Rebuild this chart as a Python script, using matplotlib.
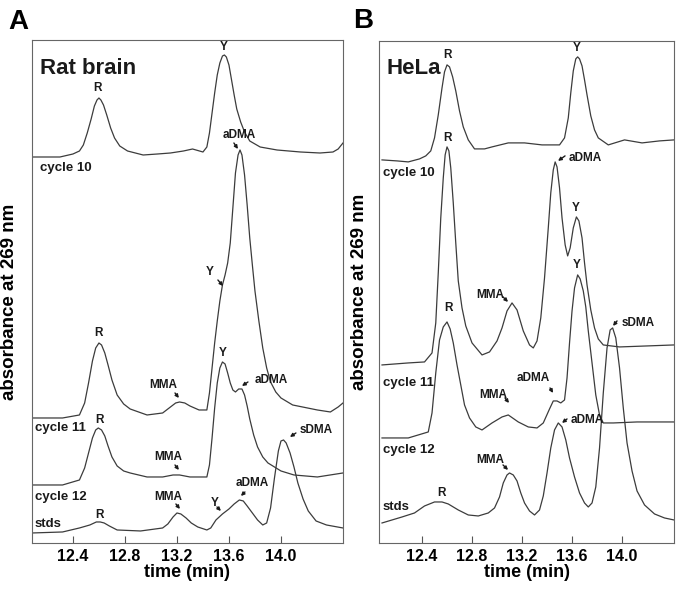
import matplotlib
matplotlib.use("Agg")
from matplotlib import pyplot as plt

plt.rcParams['font.family'] = ['Liberation Sans', 'DejaVu Sans']

# ---- panel A: rat brain (time in min, absorbance in arbitrary offset units)
a_c10_t = [12.085, 12.20, 12.30, 12.40, 12.45, 12.48, 12.51, 12.54, 12.565, 12.585,
           12.600, 12.615, 12.635, 12.66, 12.69, 12.72, 12.76, 12.82, 12.94, 13.05,
           13.15, 13.25, 13.32, 13.40, 13.43, 13.45, 13.47, 13.49, 13.51, 13.53,
           13.55, 13.565, 13.58, 13.60, 13.62, 13.64, 13.66, 13.69, 13.72, 13.76,
           13.84, 13.97, 14.15, 14.30, 14.40, 14.44, 14.477]
a_c10_y = [386, 386, 386, 389, 392, 398, 410, 424, 437, 443,
           445, 443, 438, 428, 415, 405, 397, 392, 388, 389,
           390, 392, 394, 391, 396, 410, 430, 450, 468, 480,
           487, 488, 486, 478, 463, 448, 434, 421, 411, 402,
           396, 393, 391, 390, 391, 394, 400]

a_c11_t = [12.085, 12.32, 12.45, 12.49, 12.52, 12.55, 12.575, 12.60, 12.62, 12.645,
           12.67, 12.70, 12.74, 12.79, 12.84, 12.97, 13.09, 13.14, 13.19, 13.22,
           13.26, 13.30, 13.37, 13.43, 13.45, 13.47, 13.49, 13.51, 13.53, 13.55,
           13.57, 13.59, 13.61, 13.63, 13.65, 13.67, 13.685, 13.70, 13.72, 13.74,
           13.76, 13.78, 13.80, 13.83, 13.86, 13.89, 13.92, 13.96, 14.00, 14.09,
           14.28, 14.38, 14.44, 14.477]
a_c11_y = [125, 125, 128, 140, 160, 182, 195, 200, 198, 190,
           178, 163, 148, 139, 134, 128, 130, 135, 140, 141,
           140, 137, 133, 133, 150, 175, 200, 222, 242, 258,
           268, 280, 300, 335, 370, 388, 393, 388, 368, 338,
           305, 278, 252, 222, 195, 175, 161, 151, 145, 138,
           133, 131, 136, 140]

a_c12_t = [12.085, 12.32, 12.45, 12.49, 12.52, 12.55, 12.575, 12.595, 12.62, 12.645,
           12.67, 12.70, 12.74, 12.79, 12.84, 12.97, 13.09, 13.17, 13.22, 13.30,
           13.43, 13.45, 13.47, 13.49, 13.51, 13.53, 13.55, 13.57, 13.59, 13.61,
           13.63, 13.65, 13.675, 13.70, 13.72, 13.74, 13.76, 13.79, 13.82, 13.86,
           13.90, 14.00, 14.10, 14.28, 14.477]
a_c12_y = [58, 58, 63, 75, 90, 105, 113, 115, 113, 107,
           97, 86, 77, 72, 70, 66, 66, 68, 68, 66,
           66, 78, 105, 135, 160, 175, 181, 179, 170, 160,
           153, 151, 154, 154, 148, 137, 124, 108, 96, 86,
           80, 72, 68, 66, 70]

a_std_t = [12.085, 12.32, 12.45, 12.53, 12.58, 12.61, 12.64, 12.68, 12.74, 12.92,
           13.09, 13.13, 13.17, 13.20, 13.23, 13.27, 13.31, 13.36, 13.43, 13.46,
           13.50, 13.55, 13.60, 13.64, 13.68, 13.71, 13.74, 13.78, 13.82, 13.86,
           13.89, 13.92, 13.95, 13.98, 14.00, 14.02, 14.04, 14.07, 14.10, 14.13,
           14.17, 14.21, 14.27, 14.35, 14.477]
a_std_y = [10, 11, 15, 18, 21, 21, 20, 17, 13, 12,
           15, 19, 26, 30, 29, 25, 20, 16, 13, 15,
           23, 29, 34, 39, 43, 42, 37, 30, 23, 18,
           20, 35, 65, 92, 102, 103, 100, 90, 76, 60,
           44, 32, 22, 18, 15]

# ---- panel B: HeLa
b_c10_t = [12.08, 12.20, 12.29, 12.38, 12.43, 12.47, 12.50, 12.53, 12.56, 12.58,
           12.60, 12.62, 12.645, 12.67, 12.70, 12.73, 12.77, 12.82, 12.90, 12.96,
           13.09, 13.22, 13.36, 13.50, 13.54, 13.57, 13.59, 13.61, 13.63, 13.645,
           13.66, 13.68, 13.70, 13.72, 13.75, 13.78, 13.81, 13.89, 14.02, 14.16,
           14.30, 14.416]
b_c10_y = [383, 382, 381, 384, 387, 392, 405, 428, 455, 471,
           478, 476, 466, 452, 432, 416, 403, 394, 394, 396,
           400, 400, 398, 398, 405, 425, 450, 472, 484, 486,
           484, 477, 463, 448, 427, 413, 405, 398, 403, 400,
           402, 403]

b_c11_t = [12.08, 12.29, 12.42, 12.48, 12.51, 12.53, 12.55, 12.57, 12.585, 12.60,
           12.615, 12.63, 12.65, 12.67, 12.69, 12.72, 12.75, 12.80, 12.88, 12.94,
           13.00, 13.04, 13.08, 13.12, 13.16, 13.21, 13.26, 13.29, 13.32, 13.35,
           13.38, 13.41, 13.43, 13.45, 13.465, 13.48, 13.50, 13.52, 13.545, 13.565,
           13.585, 13.61, 13.635, 13.655, 13.68, 13.70, 13.72, 13.75, 13.78, 13.81,
           13.85, 13.98, 14.20, 14.416]
b_c11_y = [178, 180, 181, 190, 220, 270, 325, 365, 388, 396,
           392, 375, 340, 300, 262, 235, 217, 200, 188, 191,
           202, 215, 232, 240, 233, 212, 198, 195, 202, 225,
           265, 315, 350, 373, 381, 376, 355, 325, 298, 287,
           295, 315, 326, 322, 305, 280, 258, 233, 215, 204,
           198, 196, 197, 198]

b_c12_t = [12.08, 12.29, 12.45, 12.48, 12.51, 12.54, 12.57, 12.60, 12.625, 12.65,
           12.68, 12.71, 12.74, 12.78, 12.83, 12.88, 12.96, 13.04, 13.09, 13.17,
           13.25, 13.32, 13.37, 13.42, 13.45, 13.48, 13.51, 13.54, 13.56, 13.58,
           13.60, 13.62, 13.645, 13.665, 13.69, 13.71, 13.73, 13.76, 13.79, 13.82,
           13.85, 13.93, 14.12, 14.416]
b_c12_y = [105, 105, 111, 130, 170, 203, 216, 221, 214, 200,
           178, 158, 138, 125, 116, 113, 120, 126, 128, 121,
           116, 115, 120, 134, 142, 142, 140, 143, 165, 200,
           232, 255, 268, 264, 252, 236, 212, 180, 148, 128,
           120, 120, 121, 121]

b_std_t = [12.08, 12.24, 12.34, 12.42, 12.50, 12.56, 12.61, 12.69, 12.77, 12.85,
           12.93, 12.98, 13.02, 13.05, 13.08, 13.10, 13.13, 13.16, 13.19, 13.22,
           13.26, 13.30, 13.34, 13.37, 13.40, 13.43, 13.46, 13.49, 13.52, 13.55,
           13.58, 13.62, 13.66, 13.70, 13.73, 13.76, 13.79, 13.82, 13.85, 13.88,
           13.905, 13.925, 13.95, 13.98, 14.01, 14.04, 14.08, 14.12, 14.18, 14.26,
           14.34, 14.416]
b_std_y = [20, 26, 30, 37, 41, 41, 39, 33, 28, 27,
           30, 35, 46, 60, 68, 70, 68, 62, 50, 40,
           32, 28, 33, 47, 70, 95, 113, 120, 116, 103,
           85, 66, 50, 40, 36, 40, 56, 95, 150, 195,
           213, 215, 205, 175, 135, 100, 72, 52, 38, 29,
           25, 23]

ticks = [12.4, 12.8, 13.2, 13.6, 14.0]
tick_labels = ['12.4', '12.8', '13.2', '13.6', '14.0']

# peak labels: (text, text x, text y, arrow from, arrow to)
a_peaks = [
    ('R', 12.592, 455, None, None),
    ('Y', 13.562, 496, None, None),
    ('aDMA', 13.677, 408, (13.638, 400), (13.669, 394)),
    ('Y', 13.454, 271, (13.515, 263), (13.554, 257)),
    ('R', 12.600, 210, None, None),
    ('MMA', 13.092, 158, (13.185, 150), (13.215, 145)),
    ('Y', 13.554, 190, None, None),
    ('aDMA', 13.923, 163, (13.746, 161), (13.700, 157)),
    ('R', 12.608, 123, None, None),
    ('MMA', 13.131, 86, (13.185, 78), (13.215, 73)),
    ('R', 12.608, 28, None, None),
    ('MMA', 13.131, 46, (13.192, 39), (13.223, 34)),
    ('Y', 13.492, 40, (13.508, 36), (13.538, 32)),
    ('aDMA', 13.777, 60, (13.723, 51), (13.692, 47)),
    ('sDMA', 14.269, 113, (14.115, 110), (14.069, 106)),
]
b_peaks = [
    ('R', 12.600, 488, None, None),
    ('Y', 13.640, 495, None, None),
    ('R', 12.600, 405, None, None),
    ('aDMA', 13.704, 385, (13.544, 387), (13.488, 382)),
    ('Y', 13.632, 335, None, None),
    ('MMA', 12.944, 248, (13.048, 246), (13.088, 241)),
    ('R', 12.608, 235, None, None),
    ('Y', 13.640, 278, None, None),
    ('MMA', 12.968, 148, (13.064, 145), (13.096, 140)),
    ('aDMA', 13.288, 165, (13.424, 155), (13.448, 150)),
    ('aDMA', 13.720, 123, (13.560, 124), (13.520, 120)),
    ('sDMA', 14.128, 220, (13.960, 222), (13.928, 217)),
    ('MMA', 12.944, 83, (13.048, 78), (13.088, 73)),
    ('R', 12.552, 50, None, None),
]

LINE = '#3c3c3c'
TXT = '#1a1a1a'


def draw_panel(ax, traces, peaks, cycles, title, xlim, ylim):
    for t, y in traces:
        ax.plot(t, y, color=LINE, lw=0.9)
    for name, tx, ty, p0, p1 in peaks:
        ax.text(tx, ty, name, ha='center', va='center', fontsize=8.5,
                fontweight='bold', color=TXT)
        if p0 is not None:
            ax.annotate('', xy=p1, xytext=p0,
                        arrowprops=dict(arrowstyle='-|>', color=TXT, lw=1.0,
                                        mutation_scale=5, shrinkA=0, shrinkB=0))
    for name, tx, ty in cycles:
        ax.text(tx, ty, name, ha='left', va='center', fontsize=9.5,
                fontweight='bold', color=TXT)
    ax.text(0.025, 0.965, title, transform=ax.transAxes, ha='left', va='top',
            fontsize=16, fontweight='bold', color=TXT)
    ax.set_xlim(*xlim)
    ax.set_ylim(*ylim)
    ax.set_yticks([])
    ax.set_xticks(ticks)
    ax.set_xticklabels(tick_labels, fontsize=11.5, fontweight='bold')
    ax.tick_params(axis='x', direction='in', length=5, width=0.8, color='#555555', pad=4)
    for s in ax.spines.values():
        s.set_color('#666666')
        s.set_linewidth(0.8)
    ax.set_xlabel('time (min)', fontsize=13, fontweight='bold', labelpad=0)
    ax.set_ylabel('absorbance at 269 nm', fontsize=13.5, fontweight='bold')


fig = plt.figure(figsize=(6.85, 5.9), dpi=100)
ax_a = fig.add_axes([0.0467, 0.0797, 0.454, 0.8525])
ax_b = fig.add_axes([0.5533, 0.0797, 0.4307, 0.851])

draw_panel(ax_a,
           [(a_c10_t, a_c10_y), (a_c11_t, a_c11_y), (a_c12_t, a_c12_y), (a_std_t, a_std_y)],
           a_peaks,
           [('cycle 10', 12.146, 375), ('cycle 11', 12.108, 115),
            ('cycle 12', 12.108, 46), ('stds', 12.108, 19)],
           'Rat brain', (12.085, 14.477), (0, 503))
draw_panel(ax_b,
           [(b_c10_t, b_c10_y), (b_c11_t, b_c11_y), (b_c12_t, b_c12_y), (b_std_t, b_std_y)],
           b_peaks,
           [('cycle 10', 12.088, 370), ('cycle 11', 12.088, 160),
            ('cycle 12', 12.088, 93), ('stds', 12.088, 36)],
           'HeLa', (12.056, 14.416), (0, 502))

ax_a.yaxis.set_label_coords(-0.045, 0.48)
ax_b.yaxis.set_label_coords(-0.037, 0.50)

fig.text(0.012, 0.963, 'A', fontsize=20, fontweight='bold', va='center', ha='left')
fig.text(0.515, 0.964, 'B', fontsize=20, fontweight='bold', va='center', ha='left')

fig.savefig('out.png', dpi=100)
